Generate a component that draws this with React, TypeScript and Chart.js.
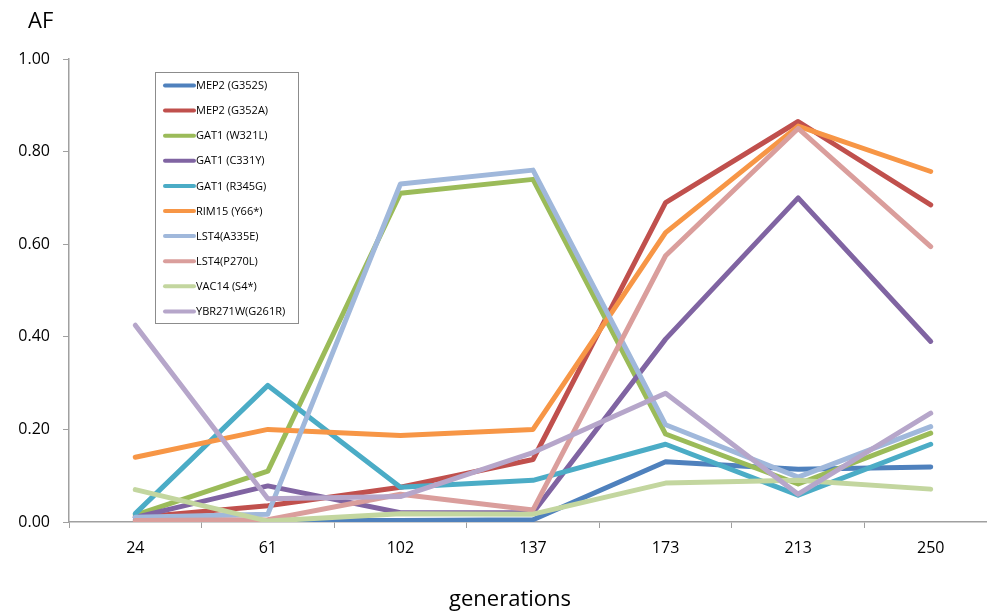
import React, { useEffect, useRef } from 'react';
import { Chart, registerables } from 'chart.js';

Chart.register(...registerables);

const generations = ['24', '61', '102', '137', '173', '213', '250'];

const seriesNames = [
  'MEP2 (G352S)',
  'MEP2 (G352A)',
  'GAT1 (W321L)',
  'GAT1 (C331Y)',
  'GAT1 (R345G)',
  'RIM15 (Y66*)',
  'LST4(A335E)',
  'LST4(P270L)',
  'VAC14 (S4*)',
  'YBR271W(G261R)',
];

const mep2G352S = [0.005, 0.003, 0.003, 0.005, 0.13, 0.114, 0.119];
const mep2G352A = [0.01, 0.035, 0.075, 0.135, 0.69, 0.865, 0.685];
const gat1W321L = [0.015, 0.11, 0.71, 0.74, 0.19, 0.082, 0.192];
const gat1C331Y = [0.01, 0.078, 0.02, 0.02, 0.395, 0.70, 0.39];
const gat1R345G = [0.018, 0.295, 0.075, 0.09, 0.168, 0.058, 0.168];
const rim15Y66 = [0.14, 0.20, 0.187, 0.20, 0.625, 0.855, 0.757];
const lst4A335E = [0.01, 0.017, 0.73, 0.76, 0.21, 0.097, 0.206];
const lst4P270L = [0.003, 0.005, 0.06, 0.026, 0.575, 0.85, 0.595];
const vac14S4 = [0.07, 0.002, 0.018, 0.017, 0.084, 0.09, 0.071];
const ybr271wG261R = [0.425, 0.05, 0.055, 0.15, 0.278, 0.06, 0.235];

const seriesValues = [
  mep2G352S,
  mep2G352A,
  gat1W321L,
  gat1C331Y,
  gat1R345G,
  rim15Y66,
  lst4A335E,
  lst4P270L,
  vac14S4,
  ybr271wG261R,
];

const seriesColors = [
  '#4F81BD',
  '#C0504D',
  '#9BBB59',
  '#8064A2',
  '#4BACC6',
  '#F79646',
  '#A0B8DB',
  '#DA9E9C',
  '#C3D69F',
  '#B6A6CA',
];

const yTitle = 'AF';
const xTitle = 'generations';
const FONT = "'Open Sans', 'DejaVu Sans', sans-serif";
const AXIS_GRAY = '#A0A0A0';

const legendPlugin = {
  id: 'boxLegend',
  afterDraw(chart: any) {
    const { ctx, chartArea } = chart;
    const bx = chartArea.left + 86;
    const by = chartArea.top + 13;
    const bw = 143;
    const bh = 251;
    ctx.save();
    ctx.fillStyle = '#ffffff';
    ctx.fillRect(bx, by, bw, bh);
    ctx.strokeStyle = '#8C8C8C';
    ctx.lineWidth = 1;
    ctx.strokeRect(bx + 0.5, by + 0.5, bw, bh);
    ctx.font = `11px ${FONT}`;
    ctx.textBaseline = 'middle';
    ctx.textAlign = 'left';
    chart.data.datasets.forEach((ds: any, i: number) => {
      const cy = by + 13.5 + i * 25.1;
      ctx.strokeStyle = ds.borderColor;
      ctx.lineWidth = 4;
      ctx.lineCap = 'round';
      ctx.beginPath();
      ctx.moveTo(bx + 10, cy);
      ctx.lineTo(bx + 39, cy);
      ctx.stroke();
      ctx.fillStyle = '#000000';
      ctx.fillText(ds.label, bx + 41, cy + 0.5);
    });
    ctx.restore();
  },
};

const titlesPlugin = {
  id: 'axisTitlesText',
  afterDraw(chart: any) {
    const { ctx, chartArea } = chart;
    ctx.save();
    ctx.font = `22px ${FONT}`;
    ctx.fillStyle = '#000000';
    ctx.textBaseline = 'middle';
    ctx.textAlign = 'left';
    ctx.fillText(yTitle, chartArea.left - 41, 22);
    ctx.textAlign = 'center';
    ctx.fillText(xTitle, chartArea.left + 441, chartArea.bottom + 78);
    ctx.restore();
  },
};

export default function App() {
  const canvasRef = useRef<HTMLCanvasElement | null>(null);

  useEffect(() => {
    if (!canvasRef.current) return;
    const n = seriesNames.length;
    const chart = new Chart(canvasRef.current, {
      type: 'line',
      data: {
        labels: generations,
        datasets: seriesNames.map((name, i) => ({
          label: name,
          data: seriesValues[i],
          borderColor: seriesColors[i],
          backgroundColor: seriesColors[i],
          borderWidth: 5,
          pointRadius: 0,
          pointHoverRadius: 0,
          tension: 0,
          fill: false,
          borderCapStyle: 'round' as const,
          borderJoinStyle: 'round' as const,
          order: n - i,
        })),
      },
      options: {
        animation: false,
        responsive: true,
        maintainAspectRatio: false,
        layout: { padding: { top: 59, right: 3, left: 0, bottom: 0 } },
        plugins: {
          legend: { display: false },
          tooltip: { enabled: false },
          title: { display: false },
        },
        scales: {
          x: {
            type: 'category',
            offset: true,
            grid: {
              offset: true,
              drawOnChartArea: false,
              drawTicks: true,
              tickLength: 6,
              color: AXIS_GRAY,
            },
            border: { display: true, color: AXIS_GRAY, width: 1.5 },
            ticks: {
              color: '#000000',
              font: { family: FONT, size: 16 },
              padding: 11,
              maxRotation: 0,
            },
            afterFit: (scale: any) => {
              scale.height = 91;
            },
          },
          y: {
            min: 0,
            max: 1,
            grid: {
              drawOnChartArea: false,
              drawTicks: true,
              tickLength: 6,
              color: AXIS_GRAY,
            },
            border: { display: true, color: AXIS_GRAY, width: 1.5 },
            ticks: {
              stepSize: 0.2,
              color: '#000000',
              font: { family: FONT, size: 16 },
              padding: 13,
              callback: (v: any) => Number(v).toFixed(2),
            },
            afterFit: (scale: any) => {
              scale.width = 69;
            },
          },
        },
      },
      plugins: [legendPlugin, titlesPlugin],
    });
    return () => chart.destroy();
  }, []);

  return (
    <div
      style={{
        position: 'fixed',
        left: 0,
        top: 0,
        width: 987,
        height: 613,
        overflow: 'hidden',
        background: '#ffffff',
      }}
    >
      <div style={{ position: 'relative', width: 1000, height: 613 }}>
        <canvas ref={canvasRef} />
      </div>
    </div>
  );
}
